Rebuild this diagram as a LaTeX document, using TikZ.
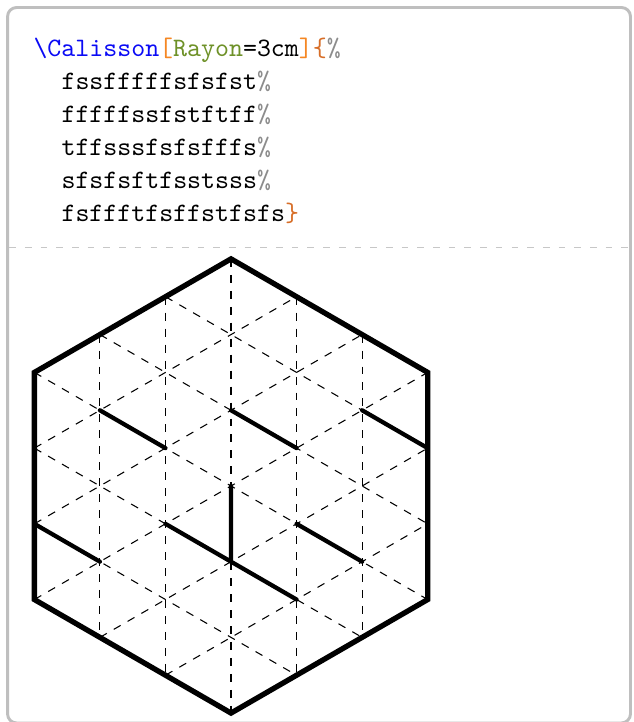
\documentclass[tikz,border=0pt]{standalone}
\definecolor{cmdblue}{RGB}{10,10,245}
\definecolor{optorange}{RGB}{245,135,35}
\definecolor{keygreen}{RGB}{110,145,40}
\definecolor{bracebrown}{RGB}{215,110,40}
\definecolor{cmtgray}{RGB}{140,140,140}
\begin{document}
\begin{tikzpicture}[
  frame/.style={draw=black!25,line width=1.1pt,rounded corners=3.4pt},
  sepline/.style={draw=black!22,line width=0.7pt,dash pattern=on 2.5pt off 3.4pt},
  code/.style={anchor=base west,inner sep=0pt,font=\ttfamily},
  gridline/.style={dashed,line width=0.4pt},
  calbord/.style={line width=2pt,line join=miter},
  calline/.style={line width=1.6pt,line cap=round}]
  \useasboundingbox (-3.052,-3.118) rectangle (5.311,6.420);
  % box and separator
  \draw[frame] (-2.952,-3.131) rectangle (5.277,6.321);
  \draw[sepline] (-2.93,3.151) -- (5.25,3.151);
  % code lines
  \node[code] (l1) at (-2.616,5.68) {\textcolor{cmdblue}{\textbackslash Calisson}\textcolor{optorange}{[}\textcolor{keygreen}{Rayon}=3cm\textcolor{optorange}{]}\textcolor{bracebrown}{\{}\textcolor{cmtgray}{\%}};
  \foreach \txt [count=\i from 2] in {fssfffffsfsfst,fffffssfstftff,tffsssfsfsfffs,sfsfsftfsstsss}
    \node[code] (l\i) at (-2.246,{5.68-0.436*(\i-1)}) {\txt\textcolor{cmtgray}{\%}};
  \node[code] (l6) at (-2.246,3.50) {fsffftfsffstfsfs\textcolor{bracebrown}{\}}};
  % calisson
  \begin{scope}[x={(0.8660254cm,0)}]
    \foreach \r in {0,60,120}
      \foreach \k in {-2,...,2}
        \draw[gridline,rotate=\r] (\k,{3-abs(\k)/2}) -- (\k,{-3+abs(\k)/2});
    \draw[calbord] (0,3) -- (-3,1.5) -- (-3,-1.5) -- (0,-3) -- (3,-1.5) -- (3,1.5) -- cycle;
    \draw[calline] (-2,1) -- (-1,0.5) (0,1) -- (1,0.5) (2,1) -- (3,0.5)
      (0,0) -- (0,-1) (-3,-0.5) -- (-2,-1) (-1,-0.5) -- (1,-1.5) (1,-0.5) -- (2,-1);
  \end{scope}
\end{tikzpicture}
\end{document}
